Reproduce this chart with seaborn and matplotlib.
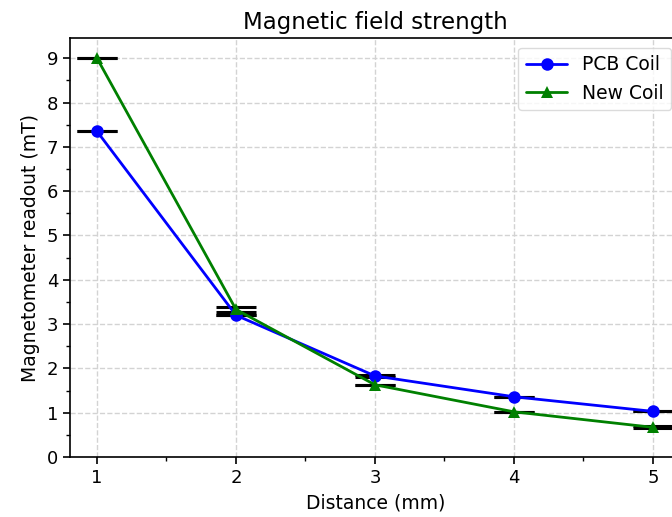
import matplotlib
matplotlib.use("Agg")
import matplotlib.pyplot as plt
import seaborn as sns
import pandas as pd
from matplotlib.ticker import MultipleLocator

distance = [1, 2, 3, 4, 5]
pcb_coil = [7.35, 3.20, 1.83, 1.36, 1.03]
new_coil = [9.00, 3.33, 1.63, 1.02, 0.67]
pcb_err = [0.0, 0.0, 0.03, 0.0, 0.0]
new_err = [0.0, 0.06, 0.0, 0.0, 0.02]

sns.set_style("ticks")
plt.rcParams['font.family'] = ['DejaVu Sans']
plt.rcParams['text.color'] = 'black'
plt.rcParams['axes.labelcolor'] = 'black'
plt.rcParams['xtick.color'] = 'black'
plt.rcParams['ytick.color'] = 'black'

fig = plt.figure(figsize=(6.72, 5.17), dpi=100)
ax = fig.add_axes([0.104, 0.116, 0.909, 0.81])

df = pd.DataFrame({
    "Distance": distance * 2,
    "Value": pcb_coil + new_coil,
    "Series": ["PCB Coil"] * 5 + ["New Coil"] * 5,
})

ax.errorbar(distance, pcb_coil, yerr=pcb_err, fmt='none', ecolor='black',
            capsize=14.5, capthick=2.2, elinewidth=1.5, zorder=2)
ax.errorbar(distance, new_coil, yerr=new_err, fmt='none', ecolor='black',
            capsize=14.5, capthick=2.2, elinewidth=1.5, zorder=2)

sns.lineplot(data=df, x="Distance", y="Value", hue="Series", style="Series",
             markers={"PCB Coil": "o", "New Coil": "^"}, dashes=False,
             palette={"PCB Coil": "blue", "New Coil": "green"},
             markersize=9, linewidth=2, markeredgewidth=0, ax=ax, zorder=3)

ax.set_xlim(0.805, 5.2)
ax.set_ylim(0, 9.45)
ax.xaxis.set_major_locator(MultipleLocator(1))
ax.xaxis.set_minor_locator(MultipleLocator(0.5))
ax.yaxis.set_major_locator(MultipleLocator(1))
ax.yaxis.set_minor_locator(MultipleLocator(0.5))
ax.tick_params(axis='both', which='major', labelsize=13, length=5, width=1.2)
ax.tick_params(axis='both', which='minor', length=3, width=1)
ax.grid(True, which='major', linestyle='--', color='lightgray', linewidth=1)
for s in ax.spines.values():
    s.set_linewidth(1.2)
    s.set_color('black')

ax.set_title("Magnetic field strength", fontsize=16.5, pad=7)
ax.set_xlabel("Distance (mm)", fontsize=13.5, labelpad=5)
ax.set_ylabel("Magnetometer readout (mT)", fontsize=13.5, labelpad=5)
leg = ax.legend(loc="upper right", fontsize=13.5, frameon=True,
                borderaxespad=0.5, handlelength=2.2)
leg.get_frame().set_edgecolor('lightgray')

fig.savefig("out.png", dpi=100)
